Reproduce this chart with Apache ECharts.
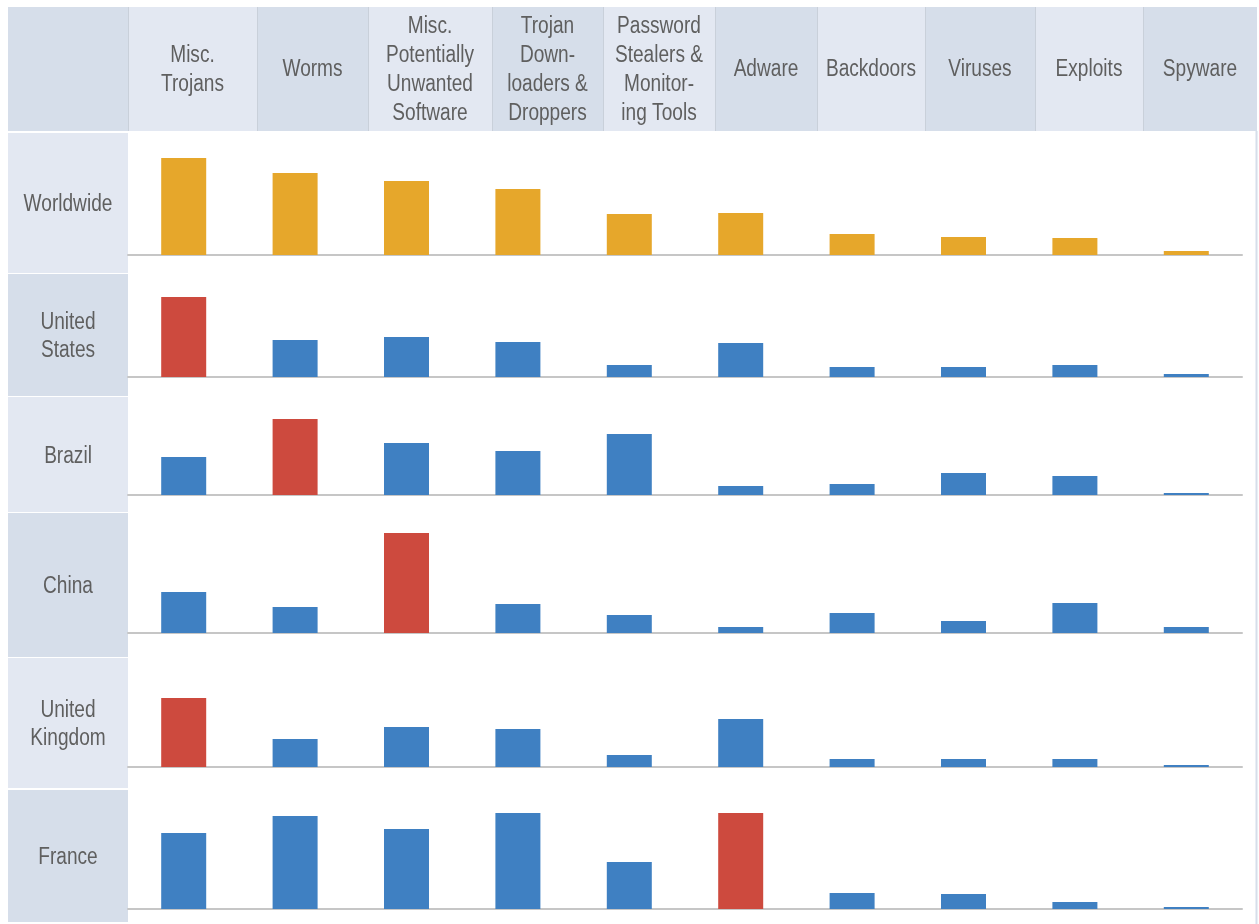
<!DOCTYPE html>
<html>
<head>
<meta charset="utf-8">
<script src="https://cdn.jsdelivr.net/npm/echarts@6/dist/echarts.min.js"></script>
<style>
  html, body { margin: 0; padding: 0; background: #ffffff; }
  #chart { width: 1259px; height: 924px; }
</style>
</head>
<body>
<div id="chart"></div>
<script>
// ---- Data ----
const categories = ['Misc. Trojans', 'Worms', 'Misc. Potentially Unwanted Software', 'Trojan Downloaders & Droppers',
  'Password Stealers & Monitoring Tools', 'Adware', 'Backdoors', 'Viruses', 'Exploits', 'Spyware'];
const headerLabels = ['Misc.\nTrojans', 'Worms', 'Misc.\nPotentially\nUnwanted\nSoftware', 'Trojan\nDown-\nloaders &\nDroppers',
  'Password\nStealers &\nMonitor-\ning Tools', 'Adware', 'Backdoors', 'Viruses', 'Exploits', 'Spyware'];
const regions = ['Worldwide', 'United\nStates', 'Brazil', 'China', 'United\nKingdom', 'France'];

// relative prevalence
const worldwide     = [97, 82, 74, 66, 41, 42, 21, 18, 17, 4];
const unitedStates  = [80, 37, 40, 35, 12, 34, 10, 10, 12, 3];
const brazil        = [38, 76, 52, 44, 61, 9, 11, 22, 19, 2];
const china         = [41, 26, 100, 29, 18, 6, 20, 12, 30, 6];
const unitedKingdom = [69, 28, 40, 38, 12, 48, 8, 8, 8, 2];
const france        = [76, 93, 80, 96, 47, 96, 16, 15, 7, 2];
const seriesValues = [worldwide, unitedStates, brazil, china, unitedKingdom, france];

// ---- Layout / style ----
const W = 1259, H = 924;
const FONT = '"Liberation Sans", Arial, sans-serif';
const TXT = '#5f5f5f';
const LIGHT = '#e3e8f2', DARK = '#d6deea';
const headerTop = 7, headerBottom = 131;
const colEdges = [8, 128, 257, 368, 492, 603, 715, 817, 925, 1035, 1143, 1257];
const rowEdges = [[133, 273], [274, 396], [397, 512], [513, 657], [658, 788], [790, 922]];
const baselines = [255, 377, 495, 633, 767, 909];
const panelH = 112, yMax = 112;
const plotLeft = 128, plotRight = 1242;
const highlightIdx = [null, 0, 1, 2, 0, 5];
const ORANGE = '#e6a72b', BLUE = '#3f80c2', RED = '#cd4a3e';
const TEXT_SCALE_X = 0.83;

const graphics = [];
// header cells
for (let i = 0; i < colEdges.length - 1; i++) {
  const x0 = colEdges[i], x1 = colEdges[i + 1];
  graphics.push({
    type: 'rect', shape: { x: x0, y: headerTop, width: x1 - x0, height: headerBottom - headerTop },
    style: { fill: i % 2 === 0 ? DARK : LIGHT }, silent: true
  });
  if (i > 0) {
    graphics.push({
      type: 'line', shape: { x1: x0 + 0.5, y1: headerTop, x2: x0 + 0.5, y2: headerBottom },
      style: { stroke: '#c9d0da', lineWidth: 1 }, silent: true
    });
    graphics.push({
      type: 'text', x: (x0 + x1) / 2, y: (headerTop + headerBottom) / 2 + 1, scaleX: TEXT_SCALE_X,
      style: { text: headerLabels[i - 1], align: 'center', verticalAlign: 'middle',
        font: '23px ' + FONT, fill: TXT, lineHeight: 29 }, silent: true
    });
  }
}
// row label cells
for (let r = 0; r < rowEdges.length; r++) {
  const [y0, y1] = rowEdges[r];
  graphics.push({
    type: 'rect', shape: { x: colEdges[0], y: y0, width: colEdges[1] - colEdges[0], height: y1 - y0 },
    style: { fill: r % 2 === 0 ? LIGHT : DARK }, silent: true
  });
  graphics.push({
    type: 'text', x: (colEdges[0] + colEdges[1]) / 2, y: (y0 + y1) / 2 + 2, scaleX: TEXT_SCALE_X,
    style: { text: regions[r], align: 'center', verticalAlign: 'middle',
      font: '23px ' + FONT, fill: TXT, lineHeight: 28 }, silent: true
  });
}
// right border of the panel area
graphics.push({
  type: 'line', shape: { x1: 1256.5, y1: headerBottom, x2: 1256.5, y2: H },
  style: { stroke: '#d6deea', lineWidth: 2 }, silent: true
});

const grids = [], xAxes = [], yAxes = [], series = [];
seriesValues.forEach((vals, r) => {
  grids.push({ left: plotLeft, width: plotRight - plotLeft, top: baselines[r] - panelH, height: panelH,
    outerBoundsMode: 'none', containLabel: false });
  xAxes.push({ type: 'category', gridIndex: r, data: categories, boundaryGap: true,
    axisTick: { show: false }, axisLabel: { show: false },
    axisLine: { show: true, lineStyle: { color: '#c6c6c6', width: 2 } }, splitLine: { show: false } });
  yAxes.push({ type: 'value', gridIndex: r, min: 0, max: yMax, show: false, splitLine: { show: false } });
  series.push({
    type: 'bar', xAxisIndex: r, yAxisIndex: r, barWidth: 45, silent: true,
    data: vals.map((v, i) => ({
      value: v,
      itemStyle: { color: r === 0 ? ORANGE : (i === highlightIdx[r] ? RED : BLUE) }
    }))
  });
});

const chart = echarts.init(document.getElementById('chart'), null, { renderer: 'canvas' });
chart.setOption({
  animation: false,
  backgroundColor: '#ffffff',
  grid: grids,
  xAxis: xAxes,
  yAxis: yAxes,
  series: series,
  graphic: graphics
});
</script>
</body>
</html>
